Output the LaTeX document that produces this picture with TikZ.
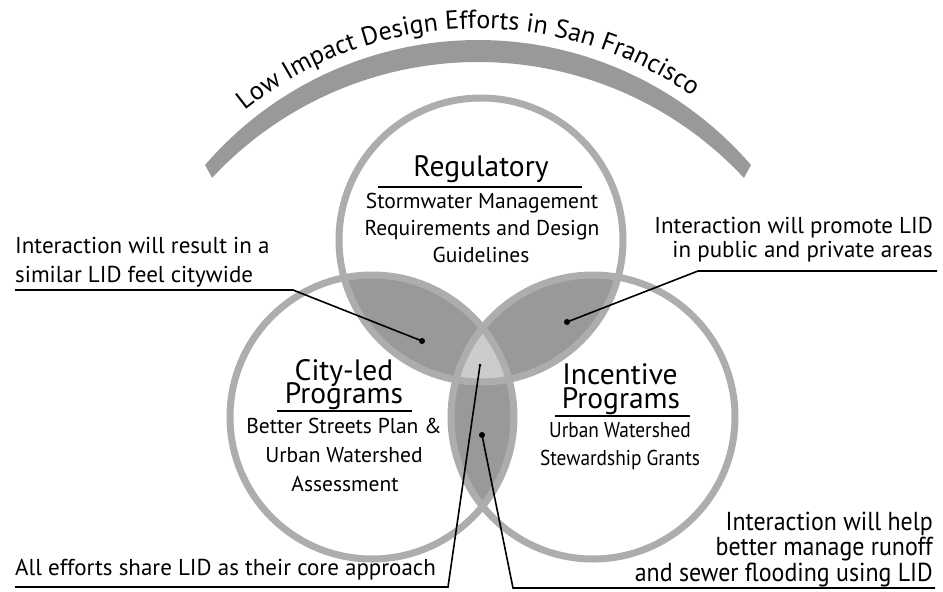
\documentclass[tikz,border=0pt]{standalone}
\usepackage{fontspec}
\setmainfont{PT Sans}
\usetikzlibrary{calc,decorations.text}
\begin{document}
\begin{tikzpicture}[x=1pt,y=1pt,
  ring/.style={draw=black!32, line width=7pt},
  lens/.style={fill=black!40},
  core/.style={fill=black!20},
  band/.style={fill=black!40},
  lbl/.style={inner sep=0pt, font=\fontsize{23}{27}\selectfont},
  head/.style={inner sep=0pt, font=\fontsize{29.5}{33}\selectfont},
  sub/.style={inner sep=0pt, font=\fontsize{21.5}{25}\selectfont},
  cond/.style={inner sep=0pt, font=\fontsize{21.5}{25}\selectfont\addfontfeature{FakeStretch=0.9}},
  bigcond/.style={inner sep=0pt, font=\fontsize{26}{29}\selectfont\addfontfeature{FakeStretch=0.92}},
  leader/.style={draw=black, line width=1.6pt},
  uline/.style={draw=black, line width=1.4pt},
  dotnode/.style={circle, fill=black, inner sep=0pt, minimum size=6pt},
  smalldot/.style={circle, fill=black, inner sep=0pt, minimum size=3pt}
]
\useasboundingbox (0,0) rectangle (943,-592);

% circle centres
\coordinate (CT) at (481,-240);
\coordinate (CL) at (372,-417);
\coordinate (CR) at (593,-417);

% title band
\coordinate (AO) at (478,-400.6);
\coordinate (AI) at (478,-425);
\fill[band] ($(AO)+(139.2:360.6)$) arc[start angle=139.2, end angle=40.8, radius=360.6]
  -- ($(AI)+(42.9:363)$) arc[start angle=42.9, end angle=137.1, radius=363] -- cycle;
\path[decorate, decoration={text along path, text align=center,
  text={|\fontsize{26}{30}\selectfont|Low Impact Design Efforts in San Francisco}}]
  ($(AO)+(136.85:372)$) arc[start angle=136.85, end angle=46.85, radius=372];

% lenses
\begin{scope}
  \clip (CT) circle (142);
  \fill[lens] (CL) circle (142);
  \fill[lens] (CR) circle (142);
\end{scope}
\begin{scope}
  \clip (CL) circle (142);
  \fill[lens] (CR) circle (142);
\end{scope}
\begin{scope}
  \clip (CT) circle (142);
  \clip (CL) circle (142);
  \fill[core] (CR) circle (142);
\end{scope}

% rings
\draw[ring] (CT) circle (142);
\draw[ring] (CL) circle (142);
\draw[ring] (CR) circle (142);

% Regulatory
\node[head, anchor=base] (reg) at (481,-176) {Regulatory};
\coordinate (ru1) at (378,-187); \coordinate (ru2) at (582,-187);
\draw[uline] (ru1) -- (ru2);
\node[sub, anchor=base] (reg1) at (482,-208) {Stormwater Management};
\node[sub, anchor=base] (reg2) at (482,-235) {Requirements and Design};
\node[sub, anchor=base] (reg3) at (481,-262) {Guidelines};

% City-led
\node[head, anchor=base] (cit1) at (344,-380) {City-led};
\node[head, anchor=base] (cit2) at (344,-403) {Programs};
\coordinate (cu1) at (277,-411); \coordinate (cu2) at (412,-411);
\draw[uline] (cu1) -- (cu2);
\node[sub, anchor=base] (cit3) at (344,-433) {Better Streets Plan \&};
\node[sub, anchor=base] (cit4) at (344,-462) {Urban Watershed};
\node[sub, anchor=base] (cit5) at (345,-491) {Assessment};

% Incentive
\node[head, anchor=base] (inc1) at (620,-384) {Incentive};
\node[head, anchor=base] (inc2) at (621,-408) {Programs};
\coordinate (iu1) at (555,-416); \coordinate (iu2) at (690,-416);
\draw[uline] (iu1) -- (iu2);
\node[cond, anchor=base] (inc3) at (620,-437) {Urban Watershed};
\node[cond, anchor=base] (inc4) at (620,-465) {Stewardship Grants};

% dots
\node[dotnode] (d1) at (422,-341) {};
\node[dotnode] (d2) at (567,-322) {};
\node[smalldot] (d3) at (480,-365) {};
\node[dotnode] (d4) at (482,-435) {};

% label 1
\node[lbl, anchor=base west] (l1a) at (15,-253) {Interaction will result in a};
\node[lbl, anchor=base west] (l1b) at (15,-282) {similar LID feel citywide};
\coordinate (u1s) at (15,-290); \coordinate (u1e) at (293,-290);
\draw[leader] (u1s) -- (u1e) -- (d1.center);

% label 2
\node[lbl, anchor=base east] (l2a) at (933,-233) {Interaction will promote LID};
\node[lbl, anchor=base east] (l2b) at (933,-257) {in public and private areas};
\coordinate (u2s) at (937,-271); \coordinate (u2e) at (698,-271);
\draw[leader] (u2s) -- (u2e) -- (d2.center);

% label 3
\node[lbl, anchor=base west] (l3) at (15,-575) {All efforts share LID as their core approach};
\coordinate (u3s) at (15,-587); \coordinate (u3e) at (448,-587);
\draw[leader] (u3s) -- (u3e) -- (d3.center);

% label 4
\node[bigcond, anchor=base east] (l4a) at (933,-530) {Interaction will help};
\node[bigcond, anchor=base east] (l4b) at (933,-555) {better manage runoff};
\node[bigcond, anchor=base east] (l4c) at (933,-581) {and sewer flooding using LID};
\coordinate (u4s) at (935,-588); \coordinate (u4e) at (513,-588);
\draw[leader] (u4s) -- (u4e) -- (d4.center);
\end{tikzpicture}
\end{document}
